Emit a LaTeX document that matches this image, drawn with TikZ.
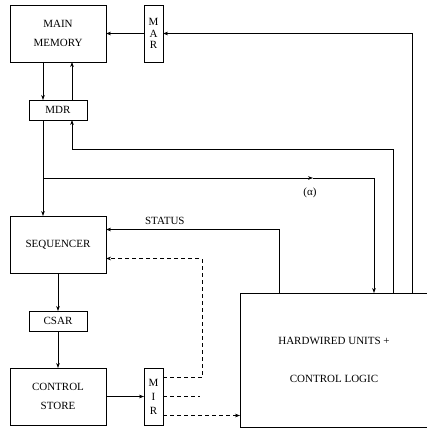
\documentclass[tikz,border=0pt]{standalone}
\usepackage{fontspec}
\setmainfont{Liberation Serif}
\usetikzlibrary{arrows.meta,positioning}

\begin{document}
\begin{tikzpicture}[x=1pt,y=-1pt,>={Stealth[length=5pt,width=3.6pt]},line width=0.6pt,
  font=\fontsize{11}{19}\selectfont]
  \tikzstyle{box}=[draw,align=center,inner sep=0pt,outer sep=0pt]
  \tikzstyle{bigbox}=[box,minimum width=96pt,minimum height=57pt]
  \tikzstyle{regbox}=[box,minimum width=58pt,minimum height=20pt]
  \tikzstyle{slimbox}=[box,minimum width=19pt,minimum height=57pt,font=\fontsize{11}{11.5}\selectfont]
  \tikzstyle{ctl}=[dashed,dash pattern=on 4pt off 3pt]
  \useasboundingbox (0,0) rectangle (426,428);
  \node[bigbox] (mainmem) at (58,33.5) {MAIN\\MEMORY};
  \node[slimbox,right=38pt of mainmem] (mar) {M\\A\\R};
  \node[regbox,below=38pt of mainmem] (mdr) {MDR};
  \node[bigbox,below=96pt of mdr] (seq) {SEQUENCER};
  \node[regbox,below=38pt of seq] (csar) {CSAR};
  \node[bigbox,below=37pt of csar] (cs) {CONTROL\\STORE};
  \node[slimbox,right=38pt of cs,font=\fontsize{11}{14}\selectfont] (mir) {M\\I\\R};
  \node[box,minimum width=188pt,minimum height=134pt,font=\fontsize{11}{38}\selectfont] (hw) at (334,360) {HARDWIRED UNITS +\\CONTROL LOGIC};
  % memory side
  \draw[->] (mar) -- (mainmem);
  \draw[->] ([xshift=172pt]hw.north west) |- (mar);
  \draw[->] ([xshift=-15pt]mainmem.south) -- ([xshift=-15pt]mainmem.south |- mdr.north);
  \draw[->] ([xshift=14pt]mdr.north) -- ([xshift=14pt]mdr.north |- mainmem.south);
  \draw[->] ([xshift=153pt]hw.north west) -- ++(0,-144) -| ([xshift=14pt]mdr.south);
  \draw[->] ([xshift=-15pt]mdr.south) -- ([xshift=-15pt]mdr.south |- seq.north);
  % alpha path
  \coordinate (br) at (43,178);
  \coordinate (alpha) at (313,178);
  \draw[->] (br) -- (alpha);
  \draw[->] (alpha) -| ([xshift=134pt]hw.north west);
  \node (alab) at (310,193) {(α)};
  % sequencer
  \draw[->] ([xshift=39pt]hw.north west) |- ([yshift=15pt]seq.east)
    node[pos=0.83,above=1pt] (status) {STATUS};
  \draw[->] (seq) -- (csar);
  \draw[->] (csar) -- (cs);
  \draw[->] (cs) -- (mir);
  % microinstruction fields
  \draw[ctl,->] ([yshift=19pt]mir.east) -- ++(39,0) |- ([yshift=-14pt]seq.east);
  \draw[ctl] (mir.east) -- ++(37,0);
  \draw[ctl,->] ([yshift=-19pt]mir.east) -- ([yshift=-19pt]mir.east -| hw.west);
\end{tikzpicture}
\end{document}
